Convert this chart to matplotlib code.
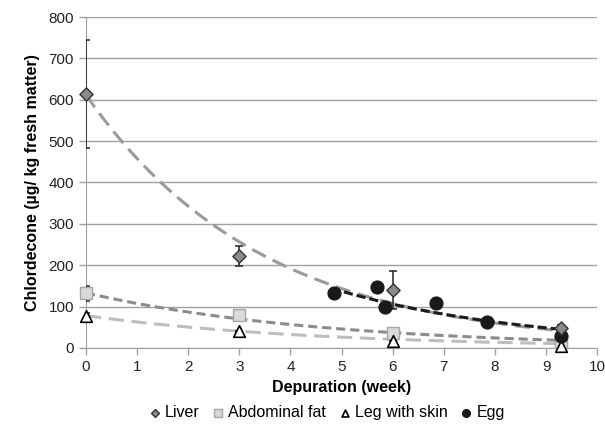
import numpy as np
import matplotlib.pyplot as plt

plt.rcParams['font.family'] = ['Liberation Sans', 'DejaVu Sans']

# Dane
weeks = [0, 3, 6, 9.3]
liver = [614, 222, 140, 47]
liver_err = [130, 25, 47, 9]
fat = [132, 80, 35, 14]
fat_err = [18, 0, 0, 0]
leg = [76, 40, 17, 5]
leg_err = [8, 0, 0, 0]

egg_weeks = [4.85, 5.70, 5.85, 6.85, 7.85, 9.29]
egg = [132, 148, 98, 108, 62, 29]

# Parametry linii trendu y = a * exp(-k * x)
trend_liver = (612, 0.29)
trend_fat = (133, 0.214)
trend_leg = (78, 0.22)
trend_egg = (503, 0.26)


def trend(p, x0, x1):
    x = np.linspace(x0, x1, 100)
    return x, p[0] * np.exp(-p[1] * x)


fig = plt.figure(figsize=(6.05, 4.37), dpi=100)
ax = fig.add_axes([0.142, 0.204, 0.845, 0.757])

# Linie trendu
x, y = trend(trend_fat, 0, 9.3)
ax.plot(x, y, color='#8c8c8c', lw=2.2, dashes=(3, 1.6), zorder=2)
x, y = trend(trend_leg, 0, 9.3)
ax.plot(x, y, color='#bdbdbd', lw=2.2, dashes=(5, 2.5), zorder=2)
x, y = trend(trend_liver, 0, 9.3)
ax.plot(x, y, color='#9a9a9a', lw=2.2, dashes=(5, 2.5), zorder=2)
x, y = trend(trend_egg, 4.8, 9.3)
ax.plot(x, y, color='#1a1a1a', lw=2.2, dashes=(3, 1.3), zorder=3)

# Słupki błędów
for vals, err in [(liver, liver_err), (fat, fat_err), (leg, leg_err)]:
    ax.errorbar(weeks, vals, yerr=err, fmt='none', ecolor='#222222',
                elinewidth=1.1, capsize=3, capthick=1.1, zorder=4)

# Punkty
ax.scatter(weeks, fat, marker='s', s=75, facecolor='#d9d9d9',
           edgecolor='#a6a6a6', lw=1, zorder=5, label='Abdominal fat',
           clip_on=False)
ax.scatter(weeks, leg, marker='^', s=70, facecolor='white',
           edgecolor='black', lw=1.2, zorder=6, label='Leg with skin',
           clip_on=False)
ax.scatter(egg_weeks, egg, marker='o', s=85, facecolor='#1a1a1a',
           edgecolor='#1a1a1a', zorder=6, label='Egg', clip_on=False)
ax.scatter(weeks, liver, marker='D', s=45, facecolor='#8a8a8a',
           edgecolor='#333333', lw=1, zorder=7, label='Liver', clip_on=False)

ax.set_xlim(0, 10)
ax.set_ylim(0, 800)
ax.set_xticks(range(0, 11))
ax.set_yticks(range(0, 801, 100))
ax.grid(axis='y', color='#a0a0a0', lw=1)
ax.set_axisbelow(True)
for s in ['top', 'right']:
    ax.spines[s].set_visible(False)
for s in ['left', 'bottom']:
    ax.spines[s].set_color('#a0a0a0')
ax.tick_params(colors='#a0a0a0', labelcolor='#222222', labelsize=11,
               length=5, width=1)
ax.tick_params(axis='x', pad=4)

ax.set_xlabel('Depuration (week)', fontsize=11.5, fontweight='bold', labelpad=4)
ax.set_ylabel('Chlordecone (µg/ kg fresh matter)', fontsize=11.5,
              fontweight='bold', labelpad=6)

handles, labels = ax.get_legend_handles_labels()
order = [3, 0, 1, 2]
ax.legend([handles[i] for i in order], [labels[i] for i in order],
          loc='upper center', bbox_to_anchor=(0.47, -0.13), ncol=4,
          frameon=False, fontsize=11.5, handletextpad=0.2, handlelength=0.9,
          columnspacing=0.7, markerscale=0.6, scatterpoints=1)

plt.savefig('out.png', dpi=100)
